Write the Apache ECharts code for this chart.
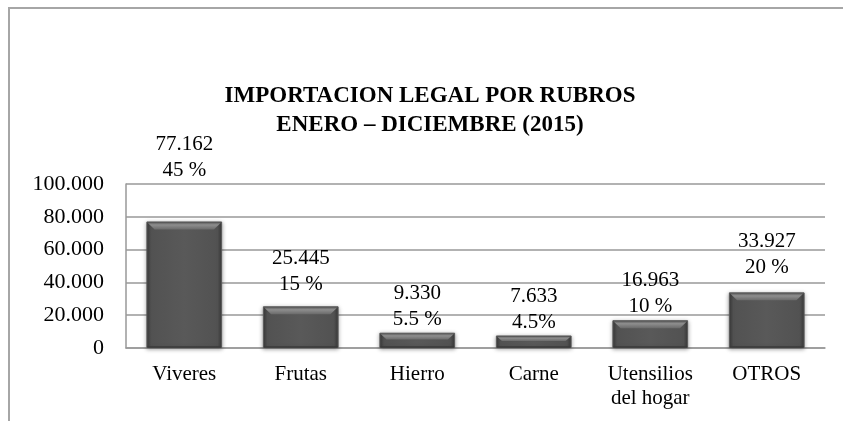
<!DOCTYPE html>
<html>
<head>
<meta charset="utf-8">
<script src="https://cdn.jsdelivr.net/npm/echarts@6/dist/echarts.min.js"></script>
<style>
  html, body { margin: 0; padding: 0; background: #fff; }
  #chart { width: 843px; height: 421px; }
</style>
</head>
<body>
<div id="chart"></div>
<script>
// Rubros y valores de importación (unidades)
var categories = ['Viveres', 'Frutas', 'Hierro', 'Carne', 'Utensilios\ndel hogar', 'OTROS'];
var values = [77162, 25445, 9330, 7633, 16963, 33927];
var percentLabels = ['45 %', '15 %', '5.5 %', '4.5%', '10 %', '20 %'];
// separación de cada etiqueta sobre su barra
var labelGaps = [38, 9, 0, 0, 1, 12];
var yTicks = { min: 0, max: 100000, interval: 20000 };

var serif = '"Liberation Serif", "Times New Roman", serif';
var BAR_RATIO = 0.65;

function miles(v) {
  return String(v).replace(/\B(?=(\d{3})+(?!\d))/g, '.');
}

var barFill = new echarts.graphic.LinearGradient(0, 0, 1, 0, [
  { offset: 0, color: '#3a3a3a' },
  { offset: 0.06, color: '#525252' },
  { offset: 0.5, color: '#595959' },
  { offset: 0.94, color: '#525252' },
  { offset: 1, color: '#3a3a3a' }
]);

var barData = values.map(function (v, i) {
  return {
    value: v,
    label: { distance: labelGaps[i] }
  };
});

// Biselado superior de cada barra (efecto en relieve)
function renderBevel(params, api) {
  var top = api.coord([api.value(0), api.value(1)]);
  var base = api.coord([api.value(0), 0]);
  var w = api.size([1, 0])[0] * BAR_RATIO;
  var x0 = top[0] - w / 2;
  var x1 = top[0] + w / 2;
  var y0 = top[1];
  var h = Math.min(8, (base[1] - y0) * 0.45);
  var inset = h * 0.9;
  return {
    type: 'group',
    silent: true,
    children: [{
      type: 'polygon',
      shape: {
        points: [[x0 + 1, y0 + 1], [x1 - 1, y0 + 1], [x1 - 1 - inset, y0 + h], [x0 + 1 + inset, y0 + h]]
      },
      style: {
        fill: new echarts.graphic.LinearGradient(0, 0, 0, 1, [
          { offset: 0, color: '#5e5e5e' },
          { offset: 0.35, color: '#8e8e8e' },
          { offset: 1, color: '#6a6a6a' }
        ])
      }
    }, {
      type: 'line',
      shape: { x1: x0 + 1, y1: base[1] - 1, x2: x1 - 1, y2: base[1] - 1 },
      style: { stroke: '#3a3a3a', lineWidth: 1.5 }
    }]
  };
}

var chart = echarts.init(document.getElementById('chart'), null, { renderer: 'canvas' });
chart.setOption({
  animation: false,
  backgroundColor: '#ffffff',
  graphic: [{
    type: 'rect',
    shape: { x: 9, y: 8, width: 900, height: 500 },
    style: { fill: 'none', stroke: '#a6a6a6', lineWidth: 2 },
    silent: true,
    z: -1
  }],
  title: {
    text: 'IMPORTACION LEGAL POR RUBROS\nENERO – DICIEMBRE (2015)',
    left: 425,
    textAlign: 'center',
    top: 77,
    textStyle: {
      fontFamily: serif,
      fontWeight: 'bold',
      fontSize: 23,
      lineHeight: 29,
      color: '#000'
    }
  },
  grid: { left: 126, right: 18, top: 184, bottom: 73 },
  xAxis: {
    type: 'category',
    data: categories,
    axisLine: { show: true, lineStyle: { color: '#999', width: 1.5 } },
    axisTick: { show: false },
    axisLabel: {
      fontFamily: serif,
      fontSize: 21,
      lineHeight: 24,
      color: '#000',
      margin: 14,
      interval: 0
    }
  },
  yAxis: {
    type: 'value',
    min: yTicks.min,
    max: yTicks.max,
    interval: yTicks.interval,
    axisLine: { show: true, lineStyle: { color: '#999', width: 1.5 } },
    axisTick: { show: false },
    splitLine: { lineStyle: { color: '#999', width: 1.5 } },
    axisLabel: {
      fontFamily: serif,
      fontSize: 22,
      color: '#000',
      margin: 22,
      formatter: function (v) { return miles(v); }
    }
  },
  series: [{
    type: 'bar',
    data: barData,
    barCategoryGap: (100 - BAR_RATIO * 100) + '%',
    itemStyle: {
      color: barFill,
      borderColor: '#5a5a5a',
      borderWidth: 1,
      shadowColor: 'rgba(0,0,0,0.35)',
      shadowBlur: 4,
      shadowOffsetY: 1
    },
    label: {
      show: true,
      position: 'top',
      fontFamily: serif,
      fontSize: 21,
      lineHeight: 26,
      color: '#000',
      formatter: function (p) {
        return miles(values[p.dataIndex]) + '\n' + percentLabels[p.dataIndex];
      }
    }
  }, {
    type: 'custom',
    renderItem: renderBevel,
    data: values.map(function (v, i) { return [i, v]; }),
    encode: { x: 0, y: 1 },
    z: 3,
    silent: true
  }]
});
</script>
</body>
</html>
